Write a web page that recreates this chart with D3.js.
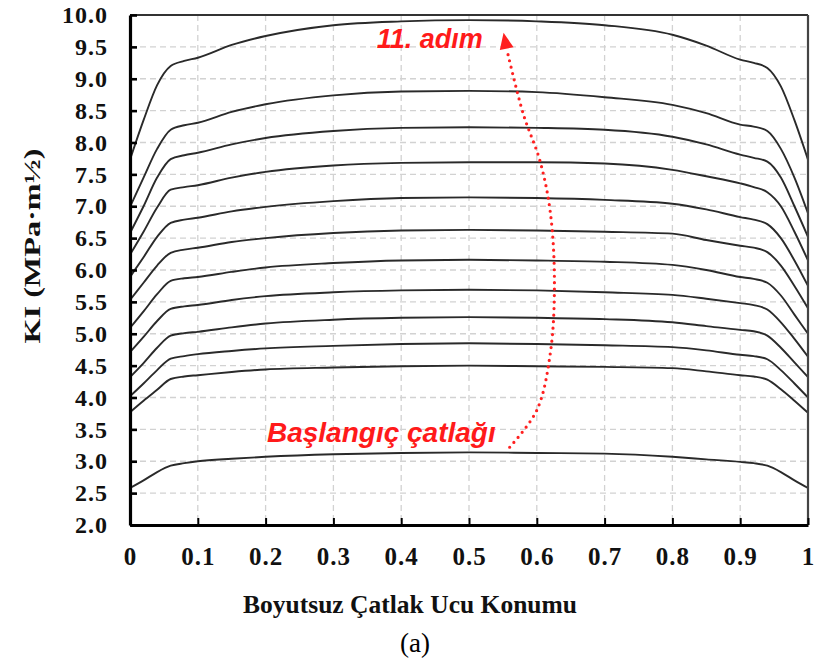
<!DOCTYPE html>
<html><head><meta charset="utf-8">
<script src="https://cdn.jsdelivr.net/npm/d3@7"></script>
<style>body{margin:0;background:#fff}svg{display:block}</style>
</head><body>
<svg id="c" width="818" height="664"></svg>
<script>
// Dimensionless crack tip positions
const xPos = [0, 0.02, 0.04, 0.06, 0.08, 0.1, 0.15, 0.2, 0.3, 0.4, 0.5, 0.6, 0.7, 0.8, 0.85, 0.9, 0.92, 0.94, 0.96, 0.98, 1];
// KI values per crack step (initial crack ... step 11)
const step0  = [2.58,2.70,2.83,2.93,2.97,3.00,3.04,3.07,3.11,3.13,3.14,3.13,3.12,3.07,3.03,2.99,2.97,2.93,2.83,2.70,2.58];
const step1  = [3.77,3.95,4.12,4.29,4.33,4.35,4.40,4.44,4.47,4.49,4.50,4.49,4.48,4.46,4.41,4.35,4.33,4.28,4.13,3.95,3.76];
const step2  = [4.02,4.22,4.43,4.61,4.65,4.68,4.73,4.77,4.81,4.84,4.85,4.84,4.82,4.79,4.74,4.67,4.65,4.60,4.43,4.22,4.00];
const step3  = [4.32,4.54,4.78,4.97,5.01,5.03,5.10,5.16,5.22,5.25,5.26,5.25,5.23,5.18,5.12,5.06,5.04,4.97,4.78,4.55,4.32];
const step4  = [4.71,4.95,5.20,5.39,5.43,5.45,5.53,5.59,5.65,5.68,5.69,5.68,5.65,5.61,5.55,5.48,5.45,5.38,5.18,4.92,4.64];
const step5  = [5.09,5.35,5.62,5.83,5.87,5.89,5.97,6.04,6.11,6.15,6.16,6.15,6.13,6.08,6.00,5.89,5.86,5.80,5.60,5.30,5.00];
const step6  = [5.53,5.80,6.07,6.27,6.32,6.35,6.44,6.50,6.58,6.62,6.63,6.62,6.60,6.57,6.47,6.38,6.35,6.28,6.07,5.75,5.40];
const step7  = [5.89,6.20,6.52,6.74,6.79,6.82,6.92,6.99,7.08,7.13,7.14,7.13,7.10,7.04,6.95,6.83,6.79,6.72,6.50,6.15,5.75];
const step8  = [6.24,6.60,6.98,7.26,7.30,7.33,7.45,7.54,7.64,7.68,7.69,7.69,7.67,7.57,7.47,7.36,7.30,7.22,7.00,6.60,6.15];
const step9  = [6.58,7.00,7.45,7.74,7.80,7.84,7.97,8.07,8.18,8.23,8.24,8.23,8.20,8.09,7.97,7.81,7.76,7.70,7.45,7.00,6.52];
const step10 = [6.99,7.45,7.90,8.20,8.27,8.31,8.48,8.60,8.74,8.80,8.81,8.79,8.71,8.59,8.46,8.28,8.25,8.18,7.90,7.45,6.89];
const step11 = [7.73,8.35,8.90,9.20,9.28,9.33,9.53,9.67,9.84,9.90,9.92,9.90,9.84,9.69,9.52,9.30,9.25,9.17,8.88,8.35,7.73];
const series = [step0, step1, step2, step3, step4, step5, step6, step7, step8, step9, step10, step11];

const xTicks = [0, 0.1, 0.2, 0.3, 0.4, 0.5, 0.6, 0.7, 0.8, 0.9, 1];
const yTicks = [2.0, 2.5, 3.0, 3.5, 4.0, 4.5, 5.0, 5.5, 6.0, 6.5, 7.0, 7.5, 8.0, 8.5, 9.0, 9.5, 10.0];
const xTickLabels = ["0","0.1","0.2","0.3","0.4","0.5","0.6","0.7","0.8","0.9","1"];

const yTitle = "KI (MPa·m½)";
const xTitle = "Boyutsuz Çatlak Ucu Konumu";
const subLabel = "(a)";
const annTop = "11. adım", annTopPos = [0.364, 9.48];
const annBot = "Başlangıç çatlağı", annBotPos = [0.202, 3.30];
const arrowPath = [[0.560,3.22],[0.600,3.80],[0.620,4.70],[0.626,5.80],[0.620,6.90],[0.605,7.70],[0.580,8.45],[0.556,9.45]];
const arrowTip = [0.551, 9.72];

const svg = d3.select("#c");
const L = 130, R = 808, T = 15, B = 525;
const x = d3.scaleLinear().domain([0,1]).range([L,R]);
const y = d3.scaleLinear().domain([2,10]).range([B,T]);
const serif = "'Liberation Serif','Times New Roman',serif";

// grid
const g = svg.append("g");
g.selectAll("line.gx").data(xTicks.slice(1,-1)).join("line")
  .attr("x1",d=>x(d)).attr("x2",d=>x(d)).attr("y1",T).attr("y2",B)
  .attr("stroke","#d2d2d2").attr("stroke-width",1.3).attr("stroke-dasharray","6,4");
g.selectAll("line.gy").data(yTicks.slice(1,-1)).join("line")
  .attr("y1",d=>y(d)).attr("y2",d=>y(d)).attr("x1",L).attr("x2",R)
  .attr("stroke","#d2d2d2").attr("stroke-width",1.3).attr("stroke-dasharray","6,4");

// curves
const line = d3.line().x((d,i)=>x(xPos[i])).y(d=>y(d)).curve(d3.curveMonotoneX);
svg.append("g").selectAll("path").data(series).join("path")
  .attr("d",line).attr("fill","none").attr("stroke","#2a2a2a").attr("stroke-width",1.9);

// frame
svg.append("line").attr("x1",L).attr("x2",R).attr("y1",T).attr("y2",T).attr("stroke","#333").attr("stroke-width",2.2);
svg.append("line").attr("x1",R).attr("x2",R).attr("y1",T).attr("y2",B).attr("stroke","#444").attr("stroke-width",2.2);

// axes
const yAxis = d3.axisLeft(y).tickValues(yTicks).tickSizeInner(-7).tickSizeOuter(0).tickPadding(22).tickFormat(d3.format(".1f"));
const ya = svg.append("g").attr("transform",`translate(${L},0)`).call(yAxis);
ya.select(".domain").attr("stroke","#000").attr("stroke-width",3.2);
ya.selectAll(".tick line").attr("stroke","#000").attr("stroke-width",2.6);
ya.selectAll("text").attr("font-family",serif).attr("font-weight","bold")
  .attr("font-size",24).attr("fill","#111").attr("letter-spacing","1px");

const xAxis = d3.axisBottom(x).tickValues(xTicks).tickSizeInner(-7).tickSizeOuter(0).tickPadding(22).tickFormat((d,i)=>xTickLabels[i]);
const xa = svg.append("g").attr("transform",`translate(0,${B})`).call(xAxis);
xa.select(".domain").attr("stroke","#000").attr("stroke-width",3.2);
xa.selectAll(".tick line").attr("stroke","#000").attr("stroke-width",2);
xa.selectAll("text").attr("font-family",serif).attr("font-weight","bold")
  .attr("font-size",25).attr("fill","#111").attr("letter-spacing","1px");

// titles
svg.append("text").attr("transform","translate(40,246) rotate(-90)").attr("text-anchor","middle")
  .attr("font-family",serif).attr("font-weight","bold").attr("font-size",24).attr("fill","#111")
  .attr("textLength",195).attr("lengthAdjust","spacingAndGlyphs")
  .text(yTitle);
svg.append("text").attr("x",410).attr("y",613).attr("text-anchor","middle")
  .attr("font-family",serif).attr("font-weight","bold").attr("font-size",25).attr("fill","#111")
  .attr("textLength",334).attr("lengthAdjust","spacingAndGlyphs")
  .text(xTitle);
svg.append("text").attr("x",415).attr("y",652).attr("text-anchor","middle")
  .attr("font-family",serif).attr("font-size",27).attr("fill","#000")
  .text(subLabel);

// annotations
const annFont = "'Liberation Sans',Arial,sans-serif";
svg.append("text").attr("x",x(annTopPos[0])).attr("y",y(annTopPos[1]))
  .attr("font-family",annFont).attr("font-weight","bold").attr("font-style","italic").attr("font-size",27).attr("fill","#ff1a1a")
  .text(annTop);
svg.append("text").attr("x",x(annBotPos[0])).attr("y",y(annBotPos[1]))
  .attr("font-family",annFont).attr("font-weight","bold").attr("font-style","italic").attr("font-size",28).attr("fill","#ff1a1a")
  .text(annBot);

const aLine = d3.line().x(d=>x(d[0])).y(d=>y(d[1])).curve(d3.curveCatmullRom);
svg.append("path").attr("d",aLine(arrowPath)).attr("fill","none").attr("stroke","#ff2020")
  .attr("stroke-width",3.2).attr("stroke-linecap","round").attr("stroke-dasharray","0,6.5");
// arrow head
const tx = x(arrowTip[0]), ty = y(arrowTip[1]);
const last = arrowPath[arrowPath.length-1];
const ang = Math.atan2(ty - y(last[1]), tx - x(last[0]));
const hl = 16, hw = 7;
const bx = tx - hl*Math.cos(ang), by = ty - hl*Math.sin(ang);
const px = -Math.sin(ang), py = Math.cos(ang);
svg.append("path").attr("d",`M${tx},${ty}L${bx+hw*px},${by+hw*py}L${bx-hw*px},${by-hw*py}Z`)
  .attr("fill","#ff2020");
</script>
</body></html>
